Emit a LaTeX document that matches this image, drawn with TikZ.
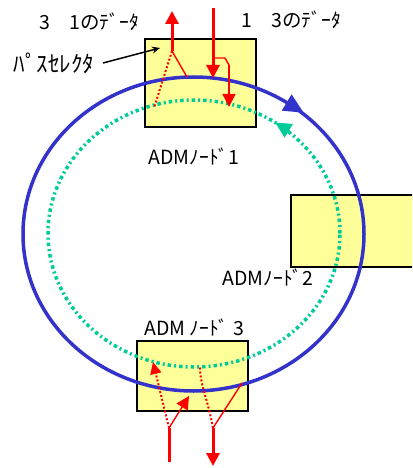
\documentclass[tikz,border=0pt]{standalone}
\usepackage{fontspec}
\setmainfont{Noto Sans CJK JP}
\usetikzlibrary{arrows.meta,decorations.markings}
\definecolor{ringblue}{RGB}{51,51,204}
\definecolor{ringgreen}{RGB}{0,204,153}
\definecolor{boxyellow}{RGB}{255,255,153}
\tikzset{
  box/.style={draw=black,line width=1.5pt,fill=boxyellow,inner sep=0pt},
  lbl/.style={inner sep=0pt,font=\fontsize{19.5}{22}\selectfont},
  thickred/.style={draw=red,line width=3pt},
  thinred/.style={draw=red,line width=1.4pt},
  dotred/.style={draw=red,line width=2pt,dash pattern=on 2pt off 2pt},
  redtip/.style={-{Triangle[length=13pt,width=13pt]}},
  smalltip/.style={-{Triangle[length=12pt,width=11pt]}},
}
\begin{document}
\begin{tikzpicture}[x=1pt,y=-1pt]
\useasboundingbox (0,0) rectangle (412,468);
\clip (0,0) rectangle (412,468);
% boxes
\node[box,minimum width=111pt,minimum height=88pt] (n1) at (200.5,83) {};
\node[box,minimum width=139pt,minimum height=72pt] (n2) at (360.5,231) {};
\node[box,minimum width=111pt,minimum height=70pt] (n3) at (192.5,376) {};
% rings
\coordinate (gc) at (194,233.5);
\coordinate (bc) at (193.5,234);
\draw[ringgreen,line width=3.5pt,dash pattern=on 3.5pt off 3pt on 2pt off 3pt,
  postaction={decorate},
  decoration={markings,mark=at position 0.153 with {\arrow[ringgreen,solid]{Triangle[length=16pt,width=15pt]}}}]
  (gc) ellipse [x radius=146pt,y radius=133.5pt];
\draw[ringblue,line width=3.5pt,
  postaction={decorate},
  decoration={markings,mark=at position 0.155 with {\arrow[ringblue]{Triangle[length=20pt,width=18pt,reversed]}}}]
  (bc) ellipse [x radius=170.5pt,y radius=157pt];
% labels
\node[lbl] (l1) at (194,156) {ADMﾉｰﾄﾞ1};
\node[lbl] (l2) at (268,277) {ADMﾉｰﾄﾞ2};
\node[lbl] (l3) at (194,327) {ADM ﾉｰﾄﾞ 3};
\node[lbl] (t31) at (89,22) {3　1のﾃﾞｰﾀ};
\node[lbl] (t13) at (291,20) {1　3のﾃﾞｰﾀ};
\node[lbl,font=\fontsize{23}{26}\selectfont] (ps) at (54,63) {ﾊﾟｽｾﾚｸﾀ};
% path selector pointer
\coordinate (psa) at (103,63);
\coordinate (psb) at (160,48);
\draw[line width=1.5pt,-{Stealth[length=8pt,width=7pt]}] (psa) -- (psb);
% node 1 red
\coordinate (j1) at (172,51);
\coordinate (u1) at (172,11);
\coordinate (b1) at (187,77);
\coordinate (g1) at (154,108);
\draw[thickred,redtip] (j1) -- (u1);
\draw[thinred] (j1) -- (b1);
\draw[dotred] (j1) -- (g1);
\coordinate (d1s) at (213,8);
\coordinate (d1t) at (213,78);
\draw[thickred,redtip] (d1s) -- (d1t);
\coordinate (br0) at (213,58);
\coordinate (br1) at (225,58);
\coordinate (br2) at (229,65);
\coordinate (br3) at (229,107);
\draw[thinred] (br0) -- (br1) -- (br2);
\draw[thinred,redtip] (br2) -- (br3);
% node 3 red
\coordinate (j3a) at (169,428);
\coordinate (s3a) at (169,462);
\coordinate (a3) at (189,396);
\coordinate (g3) at (153,362);
\draw[thickred] (s3a) -- (j3a);
\draw[thinred,redtip] (j3a) -- (a3);
\draw[dotred,smalltip] (j3a) -- (g3);
\coordinate (j3b) at (213,428);
\coordinate (e3b) at (213,466);
\coordinate (b3) at (242,383);
\coordinate (g3b) at (200,367);
\draw[thickred,redtip] (j3b) -- (e3b);
\draw[thinred] (j3b) -- (b3);
\draw[dotred] (j3b) .. controls (208,400) and (200,385) .. (g3b);
\end{tikzpicture}
\end{document}
